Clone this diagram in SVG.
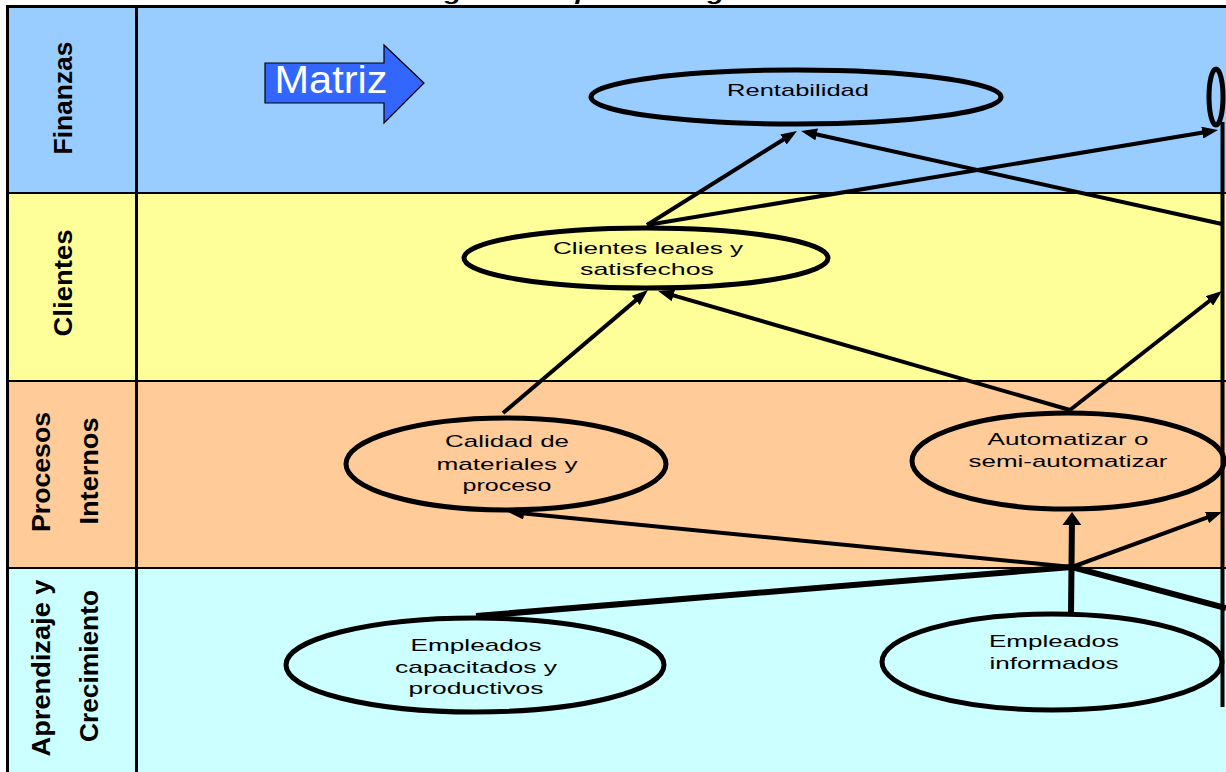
<svg xmlns="http://www.w3.org/2000/svg" width="1226" height="772" viewBox="0 0 1226 772">
<style>
.band{stroke:none}
.node{stroke:#000;stroke-width:5}
.lbl{font-family:"Liberation Sans",Arial,sans-serif;font-weight:bold;font-size:25px;fill:#000;text-anchor:middle}
.t{font-family:"Liberation Sans",Arial,sans-serif;font-size:17px;fill:#000;text-anchor:middle}
.c{stroke:#000;stroke-width:4;fill:none}
.ck{stroke:#000;stroke-width:6;fill:none}
</style>
<defs>
<marker id="ah" markerUnits="userSpaceOnUse" markerWidth="16" markerHeight="12" refX="10" refY="6" orient="auto"><path d="M0,0 L16,6 L0,12 Z" fill="#000"/></marker>
<marker id="ahb" markerUnits="userSpaceOnUse" markerWidth="13" markerHeight="19" refX="8" refY="9.5" orient="auto"><path d="M0,0 L13,9.5 L0,19 Z" fill="#000"/></marker>
</defs>
<rect width="1226" height="772" fill="#ffffff"/>
<text x="420" y="0" font-family="Liberation Sans,Arial,sans-serif" font-weight="bold" font-style="italic" font-size="20" textLength="345" lengthAdjust="spacingAndGlyphs">Figura 1 Mapa estratégico</text>
<g id="bands">
<rect class="band" x="8" y="7" width="1218" height="186" fill="#99CCFF"/>
<rect class="band" x="8" y="193" width="1218" height="188" fill="#FFFF99"/>
<rect class="band" x="8" y="381" width="1218" height="187" fill="#FFCC99"/>
<rect class="band" x="8" y="568" width="1218" height="204" fill="#CCFFFF"/>
<line x1="6" y1="6.5" x2="1226" y2="6.5" stroke="#000" stroke-width="3"/>
<line x1="7.5" y1="5" x2="7.5" y2="772" stroke="#000" stroke-width="3"/>
<line x1="136.5" y1="5" x2="136.5" y2="772" stroke="#000" stroke-width="3"/>
<line x1="7" y1="193" x2="1226" y2="193" stroke="#000" stroke-width="2"/>
<line x1="7" y1="381" x2="1226" y2="381" stroke="#000" stroke-width="2"/>
<line x1="7" y1="568" x2="1226" y2="568" stroke="#000" stroke-width="2"/>
</g>
<g id="lane-labels">
<text class="lbl" transform="translate(72,98) rotate(-90)" textLength="113" lengthAdjust="spacingAndGlyphs">Finanzas</text>
<text class="lbl" transform="translate(72,283) rotate(-90)" textLength="107" lengthAdjust="spacingAndGlyphs">Clientes</text>
<text class="lbl" transform="translate(50,472) rotate(-90)" textLength="120" lengthAdjust="spacingAndGlyphs">Procesos</text>
<text class="lbl" transform="translate(98,471) rotate(-90)" textLength="107" lengthAdjust="spacingAndGlyphs">Internos</text>
<text class="lbl" transform="translate(50,668) rotate(-90)" textLength="177" lengthAdjust="spacingAndGlyphs">Aprendizaje y</text>
<text class="lbl" transform="translate(98,666) rotate(-90)" textLength="152" lengthAdjust="spacingAndGlyphs">Crecimiento</text>
</g>
<g id="matriz">
<path d="M265,63 L384,63 L384,45 L424,83 L384,123 L384,103 L265,103 Z" fill="#3366FF" stroke="#000" stroke-width="1.2"/>
<text x="331" y="93" font-family="Liberation Sans,Arial,sans-serif" font-size="38" fill="#ffffff" text-anchor="middle" textLength="113" lengthAdjust="spacingAndGlyphs">Matriz</text>
</g>
<g id="connectors">
<line class="c" x1="647" y1="225" x2="791.9" y2="134.2" marker-end="url(#ah)"/>
<line class="c" x1="647" y1="225" x2="1212.1" y2="131" marker-end="url(#ah)"/>
<line class="c" x1="1222" y1="224" x2="806.9" y2="132.3" marker-end="url(#ah)"/>
<line class="c" x1="503" y1="413" x2="643.4" y2="293.9" marker-end="url(#ah)"/>
<line class="c" x1="1070" y1="410" x2="663.8" y2="292.7" marker-end="url(#ah)"/>
<line class="c" x1="1070" y1="410" x2="1217.3" y2="294.7" marker-end="url(#ah)"/>
<polyline class="ck" points="476,616 1072,567 1226,608"/>
<line class="ck" x1="1071" y1="614" x2="1072" y2="517" marker-end="url(#ahb)"/>
<line class="c" x1="1072" y1="567" x2="514" y2="512.6" marker-end="url(#ah)"/>
<line class="c" x1="1072" y1="567" x2="1216.4" y2="514.1" marker-end="url(#ah)"/>
</g>
<g id="n-rentabilidad">
<ellipse class="node" cx="796" cy="97" rx="205" ry="27" fill="#99CCFF"/>
<text class="t" x="798" y="96" textLength="142" lengthAdjust="spacingAndGlyphs">Rentabilidad</text>
</g>
<g id="n-right-top">
<ellipse class="node" cx="1216" cy="97" rx="7" ry="28" fill="#99CCFF"/>
</g>
<g id="n-clientes">
<ellipse class="node" cx="646" cy="258" rx="182" ry="30" fill="#FFFF99"/>
<text class="t" x="648" y="254" textLength="190" lengthAdjust="spacingAndGlyphs">Clientes leales y</text>
<text class="t" x="647" y="275" textLength="134" lengthAdjust="spacingAndGlyphs">satisfechos</text>
</g>
<g id="n-calidad">
<ellipse class="node" cx="506" cy="464" rx="160" ry="46" fill="#FFCC99"/>
<text class="t" x="507" y="447" textLength="124" lengthAdjust="spacingAndGlyphs">Calidad de</text>
<text class="t" x="507" y="470" textLength="141" lengthAdjust="spacingAndGlyphs">materiales y</text>
<text class="t" x="507" y="491" textLength="89" lengthAdjust="spacingAndGlyphs">proceso</text>
</g>
<g id="n-automatizar">
<ellipse class="node" cx="1068" cy="461" rx="156" ry="48" fill="#FFCC99"/>
<text class="t" x="1068" y="445" textLength="161" lengthAdjust="spacingAndGlyphs">Automatizar o</text>
<text class="t" x="1068" y="467" textLength="199" lengthAdjust="spacingAndGlyphs">semi-automatizar</text>
</g>
<g id="n-capacitados">
<ellipse class="node" cx="475" cy="665" rx="189" ry="47" fill="#CCFFFF"/>
<text class="t" x="476" y="651" textLength="131" lengthAdjust="spacingAndGlyphs">Empleados</text>
<text class="t" x="476" y="673" textLength="162" lengthAdjust="spacingAndGlyphs">capacitados y</text>
<text class="t" x="476" y="694" textLength="135" lengthAdjust="spacingAndGlyphs">productivos</text>
</g>
<g id="n-informados">
<ellipse class="node" cx="1052" cy="662" rx="170" ry="48" fill="#CCFFFF"/>
<text class="t" x="1054" y="647" textLength="130" lengthAdjust="spacingAndGlyphs">Empleados</text>
<text class="t" x="1054" y="669" textLength="129" lengthAdjust="spacingAndGlyphs">informados</text>
</g>
<g id="right-edge">
<line x1="1222.5" y1="122" x2="1222.5" y2="707" stroke="#000" stroke-width="4"/>
</g>
</svg>
